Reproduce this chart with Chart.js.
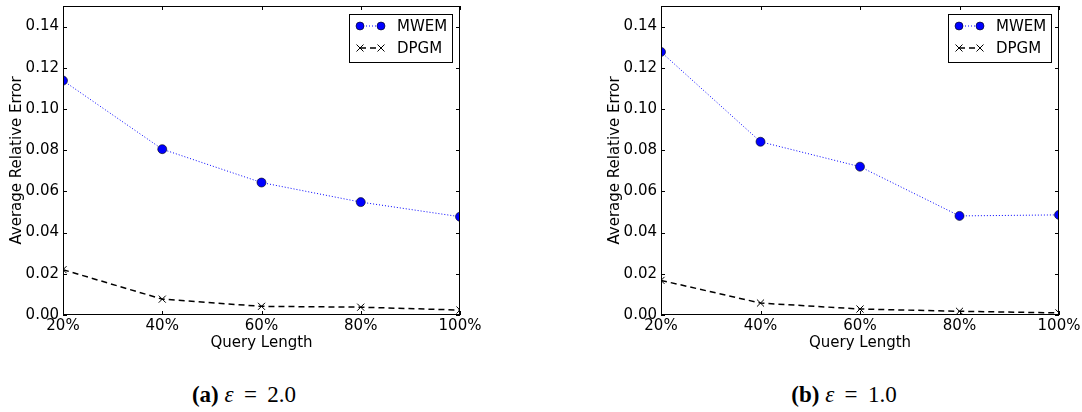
<!DOCTYPE html>
<html>
<head>
<meta charset="utf-8">
<script src="https://cdn.jsdelivr.net/npm/chart.js@4/dist/chart.umd.min.js"></script>
<style>
  body { margin: 0; background: #fff; width: 1082px; height: 412px; overflow: hidden; position: relative; }
  .box { position: absolute; top: 0; height: 360px; }
  .cap { position: absolute; top: 383px; line-height: 23px; font-family: "Liberation Serif", "DejaVu Serif", serif; font-size: 23px; color: #000; white-space: nowrap; transform: translateX(-50%); }
  .cap b { font-weight: bold; }
  .cap i { font-style: italic; }
  .cap .eq { margin: 0 0.45em; }
</style>
</head>
<body>
<div class="box" style="left:0;width:540px"><canvas id="chartA"></canvas></div>
<div class="box" style="left:598px;width:484px"><canvas id="chartB"></canvas></div>
<div class="cap" style="left:244px"><b>(a)</b> <i>ε</i><span class="eq">=</span>2.0</div>
<div class="cap" style="left:844px"><b>(b)</b> <i>ε</i><span class="eq">=</span>1.0</div>
<script>
var queryLengths = ['20%', '40%', '60%', '80%', '100%'];
var mwemA = [0.1138, 0.0805, 0.0643, 0.0548, 0.0477];
var dpgmA = [0.0220, 0.0077, 0.0042, 0.0038, 0.0024];
var mwemB = [0.1277, 0.0841, 0.0720, 0.0481, 0.0486];
var dpgmB = [0.0168, 0.0058, 0.0029, 0.0018, 0.0010];
var yTicks = [0, 0.02, 0.04, 0.06, 0.08, 0.10, 0.12, 0.14];

var FONT = { family: '"DejaVu Sans", sans-serif', size: 15 };

// matplotlib-ish frame, inward ticks on all four sides and the legend box
var framePlugin = {
  id: 'frame',
  afterDraw: function (chart) {
    var ctx = chart.ctx, a = chart.chartArea;
    var xs = chart.scales.x, ys = chart.scales.y;
    ctx.save();
    ctx.strokeStyle = '#000';
    ctx.lineWidth = 1;
    ctx.strokeRect(a.left + 0.5, a.top + 0.5, a.right - a.left - 1, a.bottom - a.top - 1);
    ctx.beginPath();
    yTicks.forEach(function (v) {
      var y = Math.round(ys.getPixelForValue(v)) + 0.5;
      ctx.moveTo(a.left, y); ctx.lineTo(a.left + 4, y);
      ctx.moveTo(a.right, y); ctx.lineTo(a.right - 4, y);
    });
    queryLengths.forEach(function (c, i) {
      var x = Math.round(xs.getPixelForValue(i)) + 0.5;
      ctx.moveTo(x, a.bottom); ctx.lineTo(x, a.bottom - 4);
      ctx.moveTo(x, a.top); ctx.lineTo(x, a.top + 4);
    });
    ctx.stroke();

    // legend
    var bw = 103, bh = 48;
    var bx = a.right - 8 - bw, by = a.top + 8;
    ctx.fillStyle = '#fff';
    ctx.fillRect(bx, by, bw, bh);
    ctx.strokeRect(bx + 0.5, by + 0.5, bw, bh);
    ctx.font = FONT.size + 'px ' + FONT.family;
    ctx.textBaseline = 'middle';
    chart.data.datasets.forEach(function (ds, i) {
      var y = by + 12 + i * 22;
      var x1 = bx + 11, x2 = bx + 32;
      ctx.strokeStyle = ds.borderColor;
      ctx.lineWidth = ds.borderWidth;
      ctx.setLineDash(ds.borderDash);
      ctx.beginPath(); ctx.moveTo(x1, y); ctx.lineTo(x2, y); ctx.stroke();
      ctx.setLineDash([]);
      [x1, x2].forEach(function (px) {
        ctx.fillStyle = ds.pointBackgroundColor;
        ctx.strokeStyle = ds.pointBorderColor;
        ctx.lineWidth = ds.pointBorderWidth;
        ctx.beginPath();
        if (ds.pointStyle === 'circle') {
          ctx.arc(px, y, 4, 0, Math.PI * 2);
          ctx.fill(); ctx.stroke();
        } else {
          var r = 3.5;
          ctx.moveTo(px - r, y - r); ctx.lineTo(px + r, y + r);
          ctx.moveTo(px + r, y - r); ctx.lineTo(px - r, y + r);
          ctx.stroke();
        }
      });
      ctx.fillStyle = '#000';
      ctx.fillText(ds.label, bx + 48, y + 1);
    });
    ctx.restore();
  }
};

function makeChart(id, mwem, dpgm, padRight) {
  return new Chart(document.getElementById(id), {
    type: 'line',
    data: {
      labels: queryLengths,
      datasets: [{
        label: 'MWEM',
        data: mwem,
        borderColor: '#0000ff',
        borderWidth: 1,
        borderDash: [1, 2],
        pointStyle: 'circle',
        pointRadius: 4.5,
        pointBackgroundColor: '#0000ff',
        pointBorderColor: '#000',
        pointBorderWidth: 0.6,
        tension: 0,
        clip: 0
      }, {
        label: 'DPGM',
        data: dpgm,
        borderColor: '#000',
        borderWidth: 1.5,
        borderDash: [6, 4],
        pointStyle: 'crossRot',
        pointRadius: 5,
        pointBackgroundColor: '#000',
        pointBorderColor: '#000',
        pointBorderWidth: 1,
        tension: 0,
        clip: 0
      }]
    },
    options: {
      responsive: true,
      maintainAspectRatio: false,
      animation: false,
      devicePixelRatio: 1,
      layout: { padding: { left: 0, right: padRight, top: 3, bottom: 0 } },
      plugins: { legend: { display: false }, tooltip: { enabled: false } },
      scales: {
        x: {
          type: 'category',
          offset: false,
          grid: { display: false, drawTicks: false },
          border: { display: false },
          ticks: { color: '#000', font: FONT, padding: 2, maxRotation: 0, autoSkip: false },
          title: { display: true, text: 'Query Length', color: '#000', font: FONT, padding: { top: 0, bottom: 8 } },
          afterFit: function (s) { s.height = 45; s.paddingLeft = 0; s.paddingRight = 0; }
        },
        y: {
          min: 0,
          max: 0.15,
          grid: { display: false, drawTicks: false },
          border: { display: false },
          ticks: {
            color: '#000', font: FONT, padding: 4, stepSize: 0.02,
            callback: function (v) { return v.toFixed(2); }
          },
          afterBuildTicks: function (s) {
            s.ticks = yTicks.map(function (v) { return { value: v }; });
          },
          title: { display: true, text: 'Average Relative Error', color: '#000', font: FONT, padding: { top: 8, bottom: 0 } },
          afterFit: function (s) { s.width = 63; s.paddingTop = 0; s.paddingBottom = 0; }
        }
      }
    },
    plugins: [framePlugin]
  });
}

makeChart('chartA', mwemA, dpgmA, 80);
makeChart('chartB', mwemB, dpgmB, 23);
</script>
</body>
</html>
